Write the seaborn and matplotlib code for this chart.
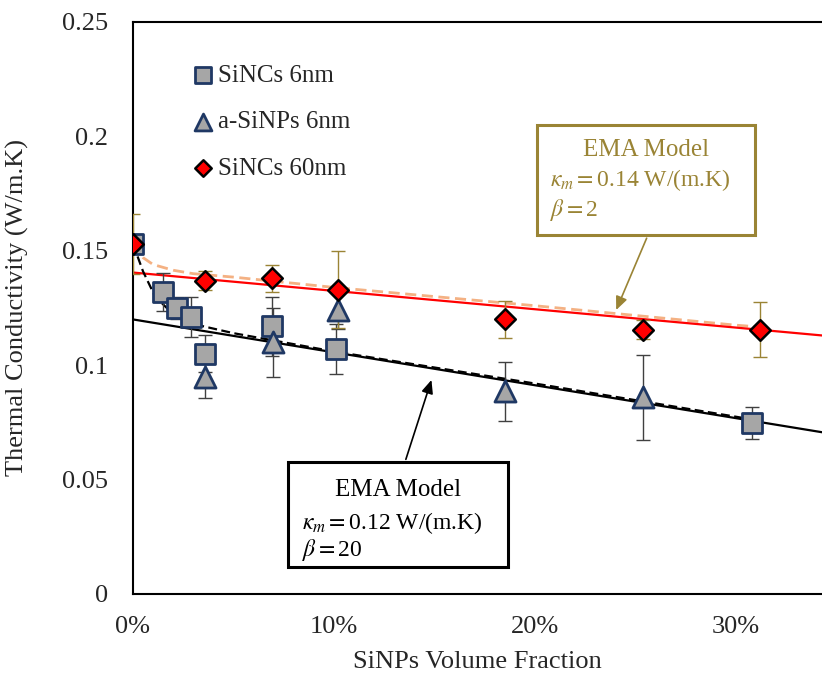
import numpy as np
import pandas as pd
import seaborn as sns
import matplotlib
matplotlib.use("Agg")
from matplotlib import pyplot as plt
from matplotlib.patches import Rectangle

# measured data
sq_x = [0.0, 0.015, 0.022, 0.029, 0.036, 0.069, 0.101, 0.308]
sq_y = [0.153, 0.132, 0.125, 0.121, 0.105, 0.117, 0.107, 0.0746]
sq_err = [0.0, 0.0085, 0.005, 0.0088, 0.008, 0.013, 0.011, 0.007]

tri_x = [0.036, 0.0695, 0.102, 0.185, 0.254]
tri_y = [0.095, 0.110, 0.124, 0.0886, 0.086]
tri_err = [0.0095, 0.015, 0.008, 0.013, 0.0185]

dia_x = [0.0, 0.036, 0.069, 0.102, 0.185, 0.254, 0.312]
dia_y = [0.153, 0.137, 0.138, 0.133, 0.120, 0.1156, 0.1156]
dia_err = [0.013, 0.004, 0.006, 0.0167, 0.008, 0.004, 0.012]

# model lines
red_x = [0.0, 0.343]
red_y = [0.1405, 0.113]
blk_x = [0.0, 0.343]
blk_y = [0.120, 0.0707]
peach_x = [0.0, 0.005, 0.01, 0.02, 0.03, 0.05, 0.10, 0.20, 0.30, 0.315]
peach_y = [0.153, 0.147, 0.144, 0.1415, 0.140, 0.1385, 0.134, 0.126, 0.1175, 0.1165]
bdash_x = [0.0, 0.005, 0.011, 0.018, 0.03, 0.05, 0.10, 0.20, 0.30, 0.31]
bdash_y = [0.153, 0.141, 0.130, 0.124, 0.118, 0.114, 0.106, 0.092, 0.0775, 0.076]

sns.set_style("white")
plt.rcParams['font.family'] = ['Liberation Serif', 'DejaVu Serif']
plt.rcParams['mathtext.fontset'] = 'stix'

fig = plt.figure(figsize=(8.22, 6.79), dpi=100)
ax = fig.add_axes([0.1618, 0.1252, 0.8382, 0.8424])

olive = '#9A8435'
navy = '#1F3864'
gray = '#A6A6A6'

sns.lineplot(x=peach_x, y=peach_y, ax=ax, color='#F4B183', lw=2, ls=(0, (4, 2)), sort=False, zorder=2)
sns.lineplot(x=red_x, y=red_y, ax=ax, color='#FF0000', lw=1.6, sort=False, zorder=2)
sns.lineplot(x=bdash_x, y=bdash_y, ax=ax, color='black', lw=1.6, ls=(0, (4, 2)), sort=False, zorder=2)
sns.lineplot(x=blk_x, y=blk_y, ax=ax, color='black', lw=1.6, sort=False, zorder=2)

ax.errorbar(sq_x, sq_y, yerr=sq_err, fmt='none', ecolor='#404040', elinewidth=1, capsize=5, zorder=3)
ax.errorbar(tri_x, tri_y, yerr=tri_err, fmt='none', ecolor='#404040', elinewidth=1, capsize=5, zorder=3)
ax.errorbar(dia_x, dia_y, yerr=dia_err, fmt='none', ecolor=olive, elinewidth=1, capsize=5, zorder=3)

sns.scatterplot(x=sq_x, y=sq_y, ax=ax, marker='s', s=200, color=gray, edgecolor=navy, linewidth=2, zorder=4, label='SiNCs 6nm')
sns.scatterplot(x=tri_x, y=tri_y, ax=ax, marker='^', s=230, color=gray, edgecolor=navy, linewidth=2, zorder=4, label='a-SiNPs 6nm')
sns.scatterplot(x=dia_x, y=dia_y, ax=ax, marker='D', s=110, color='#FF0000', edgecolor='black', linewidth=1.8, zorder=5, label='SiNCs 60nm')

ax.set_xlim(0, 0.343)
ax.set_ylim(0, 0.25)
ax.set_xticks([0, 0.1, 0.2, 0.3])
ax.set_xticklabels(['0%', '10%', '20%', '30%'])
ax.set_yticks([0, 0.05, 0.1, 0.15, 0.2, 0.25])
ax.set_yticklabels(['0', '0.05', '0.1', '0.15', '0.2', '0.25'])
ax.tick_params(labelsize=19, length=0)
ax.tick_params(axis='y', pad=18)
ax.tick_params(axis='x', pad=16)
ax.set_xlabel('SiNPs Volume Fraction', fontsize=19, labelpad=9)
ax.set_ylabel('Thermal Conductivity (W/m.K)', fontsize=19, labelpad=24)
for side in ['left', 'bottom', 'top']:
    ax.spines[side].set_color('black')
    ax.spines[side].set_linewidth(1.5)
ax.spines['right'].set_visible(False)

leg = ax.legend(loc='upper left', bbox_to_anchor=(0.053, 0.965), frameon=False, fontsize=18,
                labelspacing=0.95, handlelength=0.9, handletextpad=0.15, markerscale=0.8)

# model boxes
fig.patches.append(Rectangle((0.6533, 0.6539), 0.2652, 0.162, transform=fig.transFigure,
                             fill=False, edgecolor=olive, lw=2.2))
fig.text(0.786, 0.779, 'EMA Model', color=olive, fontsize=18, ha='center', va='center')
fig.text(0.669, 0.735, r'$\kappa_m = $0.14 W/(m.K)', color=olive, fontsize=17, ha='left', va='center')
fig.text(0.669, 0.690, r'$\beta = $2', color=olive, fontsize=17, ha='left', va='center')

fig.patches.append(Rectangle((0.3504, 0.1649), 0.2676, 0.1547, transform=fig.transFigure,
                             fill=False, edgecolor='black', lw=2.2))
fig.text(0.4842, 0.2784, 'EMA Model', color='black', fontsize=18, ha='center', va='center')
fig.text(0.3674, 0.2295, r'$\kappa_m = $0.12 W/(m.K)', color='black', fontsize=17, ha='left', va='center')
fig.text(0.3674, 0.1905, r'$\beta = $20', color='black', fontsize=17, ha='left', va='center')

ax.annotate('', xy=(0.240, 0.123), xycoords='data', xytext=(0.788, 0.653), textcoords='figure fraction',
            arrowprops=dict(arrowstyle='-|>,head_length=0.8,head_width=0.35', color=olive, lw=1.2), zorder=6)
ax.annotate('', xy=(0.149, 0.0947), xycoords='data', xytext=(0.4927, 0.3196), textcoords='figure fraction',
            arrowprops=dict(arrowstyle='-|>,head_length=0.8,head_width=0.35', color='black', lw=1.2), zorder=6)

fig.savefig('out.png', dpi=100)
